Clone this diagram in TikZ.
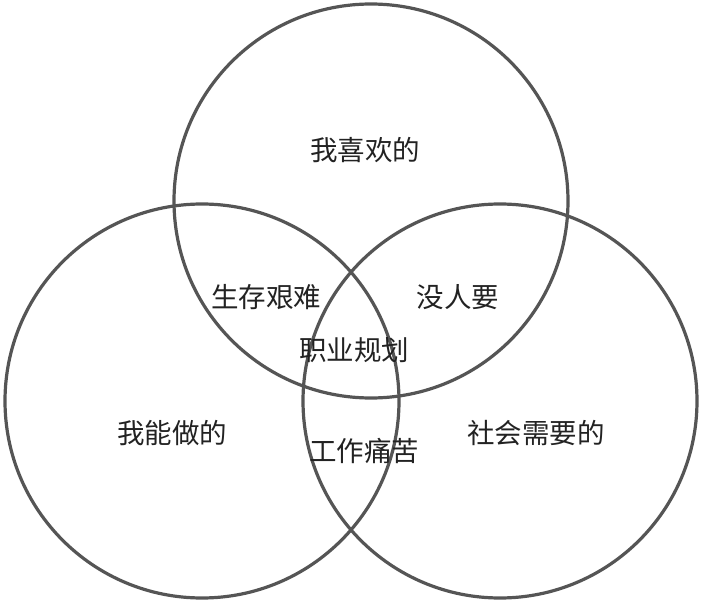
\documentclass[tikz,border=0pt]{standalone}
\usepackage{fontspec}
\newfontfamily\cjk{Noto Sans CJK SC}
\definecolor{ring}{HTML}{555555}
\definecolor{txt}{HTML}{222222}
\begin{document}
\begin{tikzpicture}[x=1pt,y=-1pt,
  ring/.style={draw=ring,line width=3.2pt},
  lbl/.style={font=\cjk\fontsize{27.5}{32}\selectfont,text=txt,inner sep=0pt}]
\useasboundingbox (0,0) rectangle (702,602);
\node[ring,circle,minimum size=394pt,inner sep=0pt] (top) at (371,201) {};
\node[ring,circle,minimum size=394pt,inner sep=0pt] (left) at (202,401) {};
\node[ring,circle,minimum size=394pt,inner sep=0pt] (right) at (500,401) {};
\node[lbl] (a) at (365,150) {我喜欢的};
\node[lbl] (b) at (266,297) {生存艰难};
\node[lbl] (c) at (458,297) {没人要};
\node[lbl] (d) at (354,350) {职业规划};
\node[lbl] (e) at (172,433) {我能做的};
\node[lbl] (f) at (364,451) {工作痛苦};
\node[lbl] (g) at (536,433) {社会需要的};
\end{tikzpicture}
\end{document}
